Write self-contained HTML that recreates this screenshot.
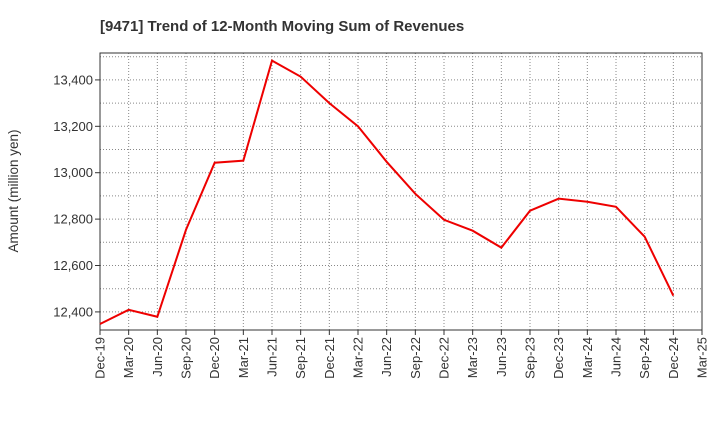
<!DOCTYPE html>
<html><head><meta charset="utf-8"><style>
body{margin:0;background:#fff;font-family:"Liberation Sans",sans-serif}
</style></head><body>
<svg id="chart" width="720" height="440" xmlns="http://www.w3.org/2000/svg" font-family="Liberation Sans, sans-serif">
<text x="100" y="31" font-size="15" font-weight="bold" fill="#333">[9471]  Trend of 12-Month Moving Sum of Revenues</text>
<text transform="translate(18,191) rotate(-90)" text-anchor="middle" font-size="13.5" fill="#333">Amount (million yen)</text>
<g id="grid"></g><g id="axes"></g><g id="series"></g>
</svg>
<script>
const categories=["Dec-19","Mar-20","Jun-20","Sep-20","Dec-20","Mar-21","Jun-21","Sep-21","Dec-21","Mar-22","Jun-22","Sep-22","Dec-22","Mar-23","Jun-23","Sep-23","Dec-23","Mar-24","Jun-24","Sep-24","Dec-24","Mar-25"];
const revenues=[12348,12409,12379,12754,13043,13052,13483,13414,13300,13200,13047,12909,12797,12750,12677,12836,12888,12875,12853,12724,12470];
const yTicks=[12400,12600,12800,13000,13200,13400];
const yTickLabels=["12,400","12,600","12,800","13,000","13,200","13,400"];
const yGrid=[12400,12500,12600,12700,12800,12900,13000,13100,13200,13300,13400,13500];
const L=100,R=702,T=53,B=330,ymin=12322,ymax=13516;
const xs=i=>L+i*(R-L)/(categories.length-1);
const ys=v=>B-(v-ymin)/(ymax-ymin)*(B-T);
const NS="http://www.w3.org/2000/svg";
function mk(tag,attrs,parent){const e=document.createElementNS(NS,tag);for(const k in attrs)e.setAttribute(k,attrs[k]);parent.appendChild(e);return e;}
const grid=document.getElementById('grid'),axes=document.getElementById('axes'),series=document.getElementById('series');
yGrid.forEach(v=>{const l=mk('line',{x1:L,x2:R,y1:ys(v),y2:ys(v),stroke:'#888','stroke-dasharray':'1,2','stroke-width':1},grid);

});
categories.forEach((c,i)=>{if(i>0&&i<categories.length-1){const l=mk('line',{x1:xs(i),x2:xs(i),y1:T,y2:B,stroke:'#888','stroke-dasharray':'1,2','stroke-width':1},grid);

}
const tk=mk('line',{x1:xs(i),x2:xs(i),y1:B,y2:B+5,stroke:'#333'},axes);


const x=xs(i)+4.5,y=B+7;
const t=mk('text',{x:x,y:y,transform:`rotate(-90 ${x} ${y})`,'text-anchor':'end','font-size':13,fill:'#333'},axes);
t.textContent=c;

});
yTicks.forEach((v,i)=>{const tk=mk('line',{x1:L-5,x2:L,y1:ys(v),y2:ys(v),stroke:'#333'},axes);


const t=mk('text',{x:L-7,y:ys(v)+4.5,'text-anchor':'end','font-size':13,fill:'#333'},axes);
t.textContent=yTickLabels[i];

});
const frame=mk('rect',{x:L,y:T,width:R-L,height:B-T,fill:'none',stroke:'#333','stroke-width':1},axes);


const line=mk('polyline',{points:revenues.map((v,i)=>xs(i)+','+ys(v)).join(' '),fill:'none',stroke:'#ee0000','stroke-width':2},series);


</script>
</body></html>
